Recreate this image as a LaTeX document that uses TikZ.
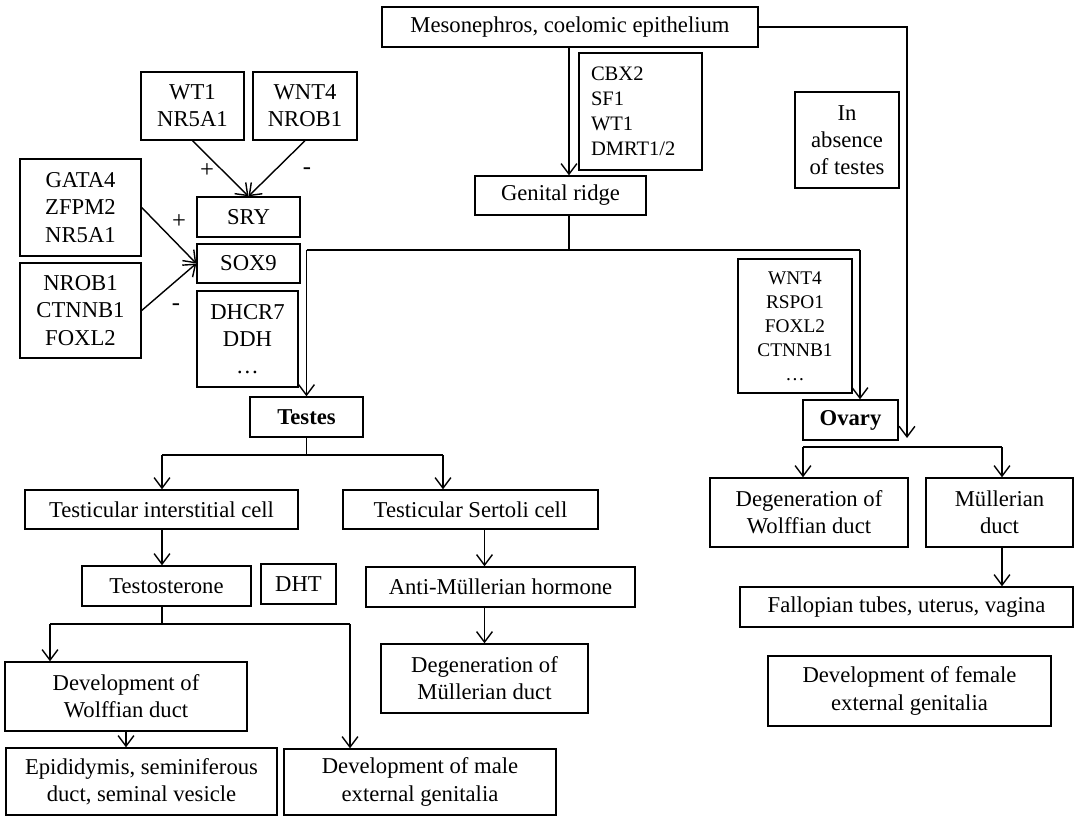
\documentclass[tikz,border=0pt]{standalone}
\usepackage{fontspec}
\setmainfont{Liberation Serif}
\usetikzlibrary{arrows.meta}
\tikzset{
  box/.style={draw, line width=0.8pt, align=center, inner sep=1pt,
    font=\fontsize{12.9}{15.5}\selectfont},
  sz/.style 2 args={minimum width=#1*0.02cm, minimum height=#2*0.02cm},
  arr/.style={line width=0.8pt, -{Straight Barb[length=6pt,width=9pt]}},
  ln/.style={line width=0.8pt},
  sign/.style={font=\fontsize{14}{16}\selectfont}
}
\begin{document}
\begin{tikzpicture}[x=0.02cm, y=-0.02cm]
    \useasboundingbox (0,0) rectangle (1075,818);

    \node[box, sz={376}{40}] (meso) at (570,27) {Mesonephros, coelomic epithelium};
    \node[box, minimum height=117*0.02cm, text width=1.98cm, inner xsep=0.24cm, align=left,
      font=\fontsize{11.7}{14.2}\selectfont] (cbx) at (640.5,111.5) {CBX2\\SF1\\WT1\\DMRT1/2};
    \node[box, sz={171}{39}] (ridge) at (560.5,195.5) {Genital ridge};
    \node[box, sz={104}{96}] (absence) at (847,140) {In\\absence\\of testes};

    \node[box, sz={103}{68}] (wt) at (192.5,106) {WT1\\NR5A1};
    \node[box, sz={104}{68}] (wnt) at (305,106) {WNT4\\NROB1};
    \node[box, sz={103}{40}] (sry) at (248.5,217) {SRY};
    \node[box, sz={103}{39}] (sox) at (248.5,263.5) {SOX9};
    \node[box, sz={121}{97}] (gata) at (80.5,207.5) {GATA4\\ZFPM2\\NR5A1};
    \node[box, sz={121}{95}] (nrob) at (80.5,310.5) {NROB1\\CTNNB1\\FOXL2};
    \node[box, sz={101}{96}] (dhcr) at (247.5,339) {DHCR7\\DDH\\…};
    \node[box, sz={113}{40}, font=\fontsize{12.9}{15.5}\selectfont\bfseries] (testes) at (306.5,417) {Testes};

    \node[box, sz={114}{134}, font=\fontsize{11}{13.6}\selectfont] (ovgenes) at (795,326) {WNT4\\RSPO1\\FOXL2\\CTNNB1\\…};
    \node[box, sz={95}{40}, font=\fontsize{12.9}{15.5}\selectfont\bfseries] (ovary) at (850.5,420) {Ovary};

    \node[sign] (plusA) at (207,171) {+};
    \node[sign] (minusA) at (307,171) {-};
    \node[sign] (plusB) at (179,222) {+};
    \node[sign] (minusB) at (176,307) {-};

    \node[box, sz={273}{39}] (inter) at (161.5,509.5) {Testicular interstitial cell};
    \node[box, sz={255}{39}] (sertoli) at (470.5,509.5) {Testicular Sertoli cell};
    \node[box, sz={169}{40}] (testo) at (166.5,586) {Testosterone};
    \node[box, sz={75}{40}] (dht) at (298.5,584) {DHT};
    \node[box, sz={269}{40}] (amh) at (500.5,587) {Anti-Müllerian hormone};
    \node[box, sz={207}{69}] (degm) at (484.5,678.5) {Degeneration of\\Müllerian duct};
    \node[box, sz={242}{69}] (devw) at (126,696.5) {Development of\\Wolffian duct};
    \node[box, sz={271}{67}] (epi) at (141.5,781.5) {Epididymis, seminiferous\\duct, seminal vesicle};
    \node[box, sz={272}{66}] (male) at (420,782) {Development of male\\external genitalia};

    \node[box, sz={198}{69}] (degw) at (809,512.5) {Degeneration of\\Wolffian duct};
    \node[box, sz={147}{69}] (mull) at (999.5,512.5) {Müllerian\\duct};
    \node[box, sz={333}{40}] (fall) at (906.5,607) {Fallopian tubes, uterus, vagina};
    \node[box, sz={283}{70}] (female) at (909.5,691) {Development of female\\external genitalia};

    \coordinate (gj) at (569,250);
    \coordinate (tl) at (306.5,250);
    \coordinate (tr) at (860,250);
    \coordinate (mesoEnd) at (907,438);
    \coordinate (tj) at (306.5,455);
    \coordinate (il) at (162,455);
    \coordinate (sj) at (443,455);
    \coordinate (wj) at (162,624);
    \coordinate (wl) at (50,624);
    \coordinate (wr) at (350,624);
    \coordinate (ol) at (803,447);
    \coordinate (orr) at (1002,447);

    \draw[arr] (meso.south -| gj) -- (ridge.north -| gj);
    \draw[arr] (meso.east) -| (mesoEnd);
    \draw[ln] (ridge.south -| gj) -- (gj);
    \draw[ln] (tl) -- (tr);
    \draw[arr] (tl) -- (testes.north);
    \draw[arr] (tr) -- (tr |- ovary.north);

    \foreach \n in {wt,wnt}
        {\draw[arr] (\n.south) -- (sry.north);}
    \foreach \n in {gata,nrob}
        {\draw[arr] (\n.east) -- (sox.west);}

    \draw[ln] (testes.south) -- (tj);
    \draw[ln] (il) -- (sj);
    \draw[arr] (il) -- (il |- inter.north);
    \draw[arr] (sj) -- (sj |- sertoli.north);
    \draw[arr] (inter.south -| il) -- (testo.north -| il);
    \draw[arr] (sertoli.south -| degm.north) -- (amh.north -| degm.north);
    \draw[arr] (amh.south -| degm.north) -- (degm.north);
    \draw[ln] (testo.south -| wj) -- (wj);
    \draw[ln] (wl) -- (wr);
    \draw[arr] (wl) -- (wl |- devw.north);
    \draw[arr] (wr) -- (wr |- male.north);
    \draw[arr] (devw.south) -- (devw.south |- epi.north);

    \draw[ln] (ol) -- (orr);
    \draw[arr] (ol) -- (ol |- degw.north);
    \draw[arr] (orr) -- (orr |- mull.north);
    \draw[arr] (mull.south -| orr) -- (fall.north -| orr);
\end{tikzpicture}
\end{document}
